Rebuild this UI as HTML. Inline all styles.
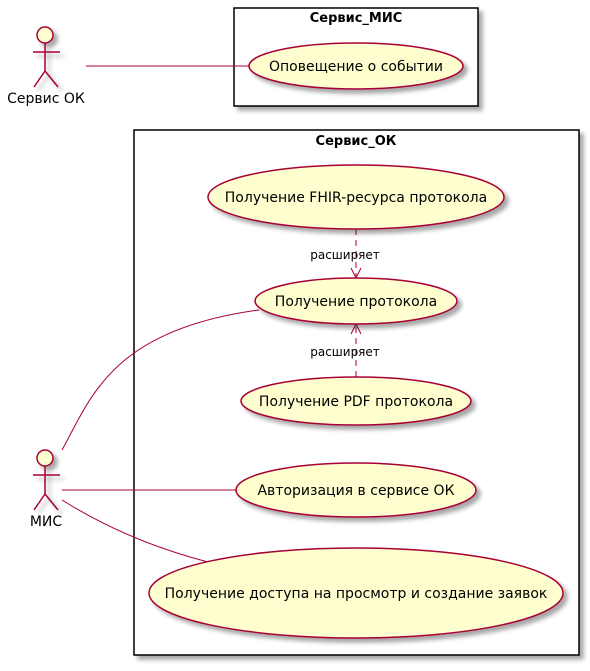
<!DOCTYPE html>
<html><head><meta charset="utf-8"><style>body{margin:0;background:#fff}</style></head><body>
<svg width="590" height="666" xmlns="http://www.w3.org/2000/svg" font-family="'DejaVu Sans',sans-serif">
<defs><filter id="sh" x="-10%" y="-10%" width="130%" height="140%"><feGaussianBlur in="SourceAlpha" stdDeviation="2"/><feOffset dx="4" dy="4"/><feComponentTransfer><feFuncA type="linear" slope="0.35"/></feComponentTransfer><feMerge><feMergeNode/><feMergeNode in="SourceGraphic"/></feMerge></filter></defs>
<g fill="none" stroke="#000" stroke-width="1.5" filter="url(#sh)">
<rect x="234" y="8" width="244" height="98" fill="#fff"/>
<rect x="134" y="130" width="445" height="525" fill="#fff"/>
</g>
<g font-weight="bold" font-size="13" text-anchor="middle"><text x="356" y="22">Сервис_МИС</text><text x="356" y="145">Сервис_ОК</text></g>
<g fill="none" stroke="#A80036" stroke-width="1">
<line x1="86" y1="66" x2="249" y2="66"/>
<path d="M62 450 C90 400 110 330 259 310"/>
<line x1="62" y1="490" x2="236" y2="490"/>
<path d="M62 500 C110 530 160 550 212 563"/>
<line x1="356" y1="229" x2="356" y2="276" stroke-dasharray="6,5"/>
<path d="M351 268 L356 278 L361 268"/>
<line x1="356" y1="377" x2="356" y2="326" stroke-dasharray="6,5"/>
<path d="M351 334 L356 324 L361 334"/>
</g>
<g fill="#FEFECE" stroke="#A80036" stroke-width="1.5" filter="url(#sh)">
<ellipse cx="356" cy="66" rx="107" ry="23"/>
<ellipse cx="356" cy="197" rx="148" ry="32"/>
<ellipse cx="356" cy="301" rx="101" ry="23"/>
<ellipse cx="356" cy="401" rx="115" ry="24"/>
<ellipse cx="356" cy="490" rx="120" ry="27"/>
<ellipse cx="356" cy="593" rx="207" ry="45"/>
<g><circle cx="45" cy="35" r="8"/><path d="M45 43 V71 M33 52 H60 M45 71 L34 87 M45 71 L58 87" fill="none"/></g>
<g transform="translate(0,423)"><circle cx="45" cy="35" r="8"/><path d="M45 43 V71 M33 52 H60 M45 71 L34 87 M45 71 L58 87" fill="none"/></g>
</g>
<g font-size="14" text-anchor="middle" fill="#000">
<text x="356" y="71">Оповещение о событии</text>
<text x="356" y="202">Получение FHIR-ресурса протокола</text>
<text x="356" y="306">Получение протокола</text>
<text x="356" y="406">Получение PDF протокола</text>
<text x="356" y="495">Авторизация в сервисе ОК</text>
<text x="356" y="598">Получение доступа на просмотр и создание заявок</text>
<text x="46" y="103">Сервис ОК</text>
<text x="46" y="526">МИС</text>
</g>
<g font-size="12" text-anchor="middle"><text x="345" y="259">расширяет</text><text x="345" y="356">расширяет</text></g>
</svg>
</body></html>
